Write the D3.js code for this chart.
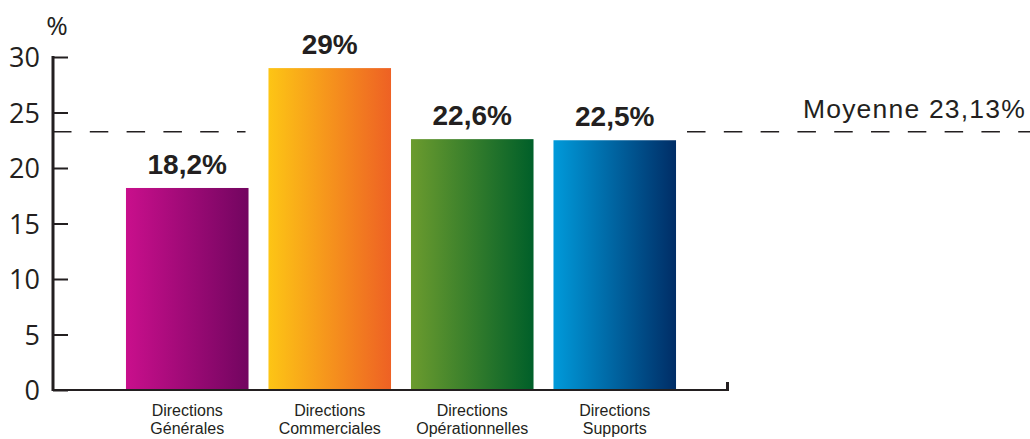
<!DOCTYPE html>
<html>
<head>
<meta charset="utf-8">
<script src="https://cdn.jsdelivr.net/npm/d3@7"></script>
<style>
  html, body { margin: 0; padding: 0; background: #fff; }
  svg { display: block; }
</style>
</head>
<body>
<svg id="chart" width="1030" height="439"></svg>
<script>
// Part de chaque famille de directions (%)
const categories = [
  ["Directions", "Générales"],
  ["Directions", "Commerciales"],
  ["Directions", "Opérationnelles"],
  ["Directions", "Supports"]
];
const values = [18.2, 29, 22.6, 22.5];
const valueLabels = ["18,2%", "29%", "22,6%", "22,5%"];
const yTicks = [0, 5, 10, 15, 20, 25, 30];
const average = 23.13;
const averageLabel = "Moyenne 23,13%";
const gradients = [
  ["#c90f8c", "#720560"],
  ["#fdc515", "#ee6124"],
  ["#6b9b2e", "#005f29"],
  ["#009ada", "#002d66"]
];

const svg = d3.select("#chart");
const ink = "#231f20";
const axisX = 53, baseY = 390, topY = 57, axisEnd = 728;

const y = d3.scaleLinear().domain([0, 30]).range([baseY, topY]);
const x = d3.scaleBand()
  .domain(d3.range(categories.length))
  .range([116, 686])
  .paddingInner(0.14)
  .paddingOuter(0.07);

// gradients
const defs = svg.append("defs");
gradients.forEach((g, i) => {
  const lg = defs.append("linearGradient")
    .attr("id", "grad" + i)
    .attr("x1", "0%").attr("x2", "100%").attr("y1", "0%").attr("y2", "0%");
  lg.append("stop").attr("offset", "0%").attr("stop-color", g[0]);
  lg.append("stop").attr("offset", "100%").attr("stop-color", g[1]);
});

// average line (dashed), interrupted in the middle section
const avgY = y(average) - 1.5;
const dash = "18.5,18.3";
svg.append("line")
  .attr("x1", axisX).attr("x2", x(0) + x.bandwidth() - 3)
  .attr("y1", avgY).attr("y2", avgY)
  .attr("stroke", ink).attr("stroke-width", 1.3)
  .attr("stroke-dasharray", dash);
svg.append("line")
  .attr("x1", x(3) + x.bandwidth() + 11).attr("x2", 1030)
  .attr("y1", avgY).attr("y2", avgY)
  .attr("stroke", ink).attr("stroke-width", 1.3)
  .attr("stroke-dasharray", dash);

svg.append("text")
  .attr("x", 1026).attr("y", 118)
  .attr("text-anchor", "end")
  .attr("font-family", "Liberation Sans, Arial, sans-serif")
  .attr("font-size", 26.5)
  .attr("letter-spacing", 1.2)
  .attr("fill", ink)
  .text(averageLabel);

// bars
svg.selectAll("rect.bar")
  .data(values)
  .enter().append("rect")
  .attr("class", "bar")
  .attr("x", (d, i) => x(i))
  .attr("width", x.bandwidth())
  .attr("y", d => y(d))
  .attr("height", d => baseY - y(d))
  .attr("fill", (d, i) => `url(#grad${i})`);

// value labels
svg.selectAll("text.val")
  .data(values)
  .enter().append("text")
  .attr("class", "val")
  .attr("x", (d, i) => x(i) + x.bandwidth() / 2)
  .attr("y", d => y(d) - 14)
  .attr("text-anchor", "middle")
  .attr("font-family", "Liberation Sans, Arial, sans-serif")
  .attr("font-weight", "bold")
  .attr("font-size", 28)
  .attr("fill", ink)
  .text((d, i) => valueLabels[i]);

// y axis
const yAxis = d3.axisLeft(y).tickValues(yTicks).tickSize(0).tickPadding(0);
const gY = svg.append("g").attr("transform", `translate(${axisX},0)`).call(yAxis);
gY.select(".domain").remove();
gY.selectAll(".tick text")
  .attr("x", -13)
  .attr("dy", "0.36em")
  .attr("font-family", "Open Sans, sans-serif")
  .attr("font-size", 27)
  .attr("fill", ink);
gY.selectAll(".tick").append("line")
  .attr("x1", 0).attr("x2", 15)
  .attr("y1", 0).attr("y2", 0)
  .attr("stroke", ink).attr("stroke-width", 2);

svg.append("line")
  .attr("x1", axisX).attr("x2", axisX)
  .attr("y1", topY - 1).attr("y2", baseY + 1)
  .attr("stroke", ink).attr("stroke-width", 3);

svg.append("text")
  .attr("x", 57).attr("y", 35)
  .attr("text-anchor", "middle")
  .attr("font-family", "Open Sans, sans-serif")
  .attr("font-size", 26)
  .attr("fill", ink)
  .text("%");

// x axis baseline with end tick
svg.append("line")
  .attr("x1", axisX).attr("x2", axisEnd)
  .attr("y1", baseY).attr("y2", baseY)
  .attr("stroke", ink).attr("stroke-width", 2);
svg.append("line")
  .attr("x1", axisEnd - 0.5).attr("x2", axisEnd - 0.5)
  .attr("y1", baseY - 8).attr("y2", baseY + 1)
  .attr("stroke", ink).attr("stroke-width", 3);

// category labels
const cat = svg.selectAll("text.cat")
  .data(categories)
  .enter().append("text")
  .attr("class", "cat")
  .attr("text-anchor", "middle")
  .attr("font-family", "Liberation Sans, Arial, sans-serif")
  .attr("font-size", 16)
  .attr("fill", ink);
cat.each(function(lines, i) {
  const t = d3.select(this);
  lines.forEach((ln, j) => {
    t.append("tspan")
      .attr("x", x(i) + x.bandwidth() / 2)
      .attr("y", 416 + j * 18)
      .text(ln);
  });
});
</script>
</body>
</html>
